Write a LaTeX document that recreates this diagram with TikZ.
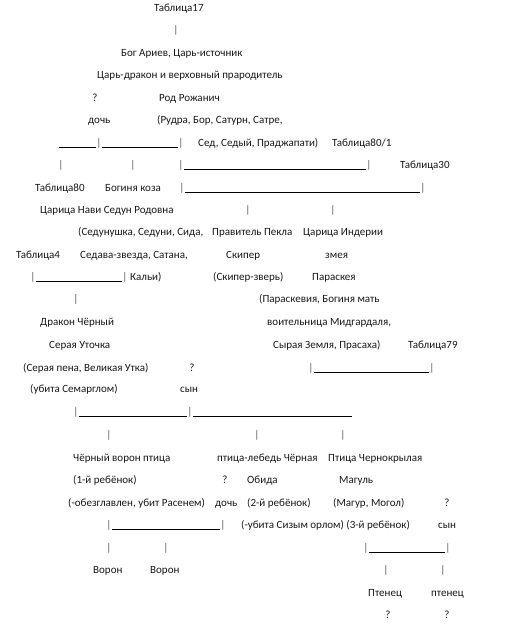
\documentclass[tikz,border=0pt]{standalone}
\usepackage{fontspec}
\setmainfont{Carlito}
\begin{document}
\begin{tikzpicture}[x=1pt,y=-1pt,
  t/.style={anchor=base west,inner sep=0pt,font=\fontsize{11}{12}\selectfont,text=black!90},
  tc/.style={anchor=base,inner sep=0pt,font=\fontsize{11}{12}\selectfont,text=black!90},
  pipe/.style={anchor=base,inner sep=0pt,font=\fontsize{11}{12}\selectfont,text=black!65},
  rule/.style={line width=0.8pt,black}]
\fill[white] (0,0) rectangle (523,635);
\useasboundingbox (0,0) rectangle (523,635);
% row 8
\node[t] (t17) at (154,11.5) {Таблица17};
\node[pipe] (p1) at (176,33.5) {|};
\node[t] (bog) at (121,56.5) {Бог Ариев, Царь-источник};
\node[t] (drak) at (97,78.5) {Царь-дракон и верховный прародитель};
\node[tc] (q1) at (95,101.5) {?};
\node[t] (rod) at (159,101.5) {Род Рожанич};
\node[t] (doch1) at (88,123.5) {дочь};
\node[t] (rudra) at (157,123.5) {(Рудра, Бор, Сатурн, Сатре,};
% row 143
\coordinate (s1) at (59,147.5);
\node[pipe] (p2) at (99,146.5) {|};
\node[pipe] (p3) at (181,146.5) {|};
\draw[rule] (s1) -- (p2.west |- s1);
\draw[rule] (p2.east |- s1) -- (p3.west |- s1);
\node[t] (sed) at (198,146.5) {Сед, Седый, Праджапати)};
\node[t] (t801) at (332,146.5) {Таблица80/1};
% row 165
\node[pipe] (p4) at (61,168.5) {|};
\node[pipe] (p5) at (133,168.5) {|};
\node[pipe] (p6) at (181,168.5) {|};
\node[pipe] (p7) at (369,168.5) {|};
\coordinate (y165) at (0,169.5);
\draw[rule] (p6.east |- y165) -- (p7.west |- y165);
\node[t] (t30) at (400,168.5) {Таблица30};
% row 188
\node[t] (t80) at (35,191.5) {Таблица80};
\node[t] (koza) at (105,191.5) {Богиня коза};
\node[pipe] (p8) at (182,191.5) {|};
\node[pipe] (p9) at (423,191.5) {|};
\coordinate (y188) at (0,192.5);
\draw[rule] (p8.east |- y188) -- (p9.west |- y188);
% row 210
\node[t] (navi) at (40,213.5) {Царица Нави Седун Родовна};
\node[pipe] (p10) at (248,213.5) {|};
\node[pipe] (p11) at (333,213.5) {|};
% row 232
\node[t] (sedun) at (78,235.5) {(Седунушка, Седуни, Сида,};
\node[t] (pekla) at (212,235.5) {Правитель Пекла};
\node[t] (inder) at (303,235.5) {Царица Индерии};
% row 255
\node[t] (t4) at (16,258.5) {Таблица4};
\node[t] (sedava) at (80,258.5) {Седава-звезда, Сатана,};
\node[t] (skiper) at (226,258.5) {Скипер};
\node[t] (zmeya) at (325,258.5) {змея};
% row 277
\node[pipe] (p12) at (33,280.5) {|};
\node[pipe] (p13) at (125,280.5) {|};
\coordinate (y277) at (0,281.5);
\draw[rule] (p12.east |- y277) -- (p13.west |- y277);
\node[t] (kali) at (130,280.5) {Кальи)};
\node[t] (skz) at (213,280.5) {(Скипер-зверь)};
\node[t] (parask) at (312,280.5) {Параскея};
% row 299
\node[pipe] (p14) at (76,302.5) {|};
\node[t] (paraskev) at (259,302.5) {(Параскевия, Богиня мать};
% row 322
\node[t] (drch) at (40,325.5) {Дракон Чёрный};
\node[t] (voit) at (267,325.5) {воительница Мидгардаля,};
% row 345
\node[t] (utochka) at (49,348.5) {Серая Уточка};
\node[t] (syr) at (273,348.5) {Сырая Земля, Прасаха)};
\node[t] (t79) at (408,348.5) {Таблица79};
% row 368
\node[t] (pena) at (23,371.5) {(Серая пена, Великая Утка)};
\node[tc] (q2) at (192,371.5) {?};
\node[pipe] (p15) at (311,371.5) {|};
\node[pipe] (p16) at (432,371.5) {|};
\coordinate (y368) at (0,372.5);
\draw[rule] (p15.east |- y368) -- (p16.west |- y368);
% row 389
\node[t] (sem) at (30,392.5) {(убита Семарглом)};
\node[t] (syn1) at (180,392.5) {сын};
% row 412
\node[pipe] (p17) at (76,415.5) {|};
\node[pipe] (p18) at (190,415.5) {|};
\coordinate (y412) at (0,416.5);
\coordinate (e1) at (352,416.5);
\draw[rule] (p17.east |- y412) -- (p18.west |- y412);
\draw[rule] (p18.east |- y412) -- (e1);
% row 435
\node[pipe] (p19) at (109,438.5) {|};
\node[pipe] (p20) at (257,438.5) {|};
\node[pipe] (p21) at (343,438.5) {|};
% row 458
\node[t] (voron) at (73,461.5) {Чёрный ворон птица};
\node[t] (lebed) at (217,461.5) {птица-лебедь Чёрная};
\node[t] (chern) at (328,461.5) {Птица Чернокрылая};
% row 480
\node[t] (reb1) at (73,483.5) {(1-й ребёнок)};
\node[tc] (q3) at (225,483.5) {?};
\node[t] (obida) at (247,483.5) {Обида};
\node[t] (magul) at (339,483.5) {Магуль};
% row 503
\node[t] (obezg) at (68,506.5) {(-обезглавлен, убит Расенем)};
\node[t] (doch2) at (215,506.5) {дочь};
\node[t] (reb2) at (247,506.5) {(2-й ребёнок)};
\node[t] (magur) at (333,506.5) {(Магур, Могол)};
\node[tc] (q4) at (447,506.5) {?};
% row 525
\node[pipe] (p22) at (109,528.5) {|};
\node[pipe] (p23) at (223,528.5) {|};
\coordinate (y525) at (0,529.5);
\draw[rule] (p22.east |- y525) -- (p23.west |- y525);
\node[t] (sizym) at (241,528.5) {(-убита Сизым орлом) (3-й ребёнок)};
\node[t] (syn2) at (438,528.5) {сын};
% row 548
\node[pipe] (p24) at (109,551.5) {|};
\node[pipe] (p25) at (166,551.5) {|};
\node[pipe] (p26) at (366,551.5) {|};
\node[pipe] (p27) at (448,551.5) {|};
\coordinate (y548) at (0,552.5);
\draw[rule] (p26.east |- y548) -- (p27.west |- y548);
% row 570
\node[t] (voron1) at (93,573.5) {Ворон};
\node[t] (voron2) at (150,573.5) {Ворон};
\node[pipe] (p28) at (386,573.5) {|};
\node[pipe] (p29) at (443,573.5) {|};
% row 593
\node[t] (ptenec1) at (368,596.5) {Птенец};
\node[t] (ptenec2) at (431,596.5) {птенец};
% row 615
\node[tc] (q5) at (388,618.5) {?};
\node[tc] (q6) at (447,618.5) {?};
\end{tikzpicture}
\end{document}
